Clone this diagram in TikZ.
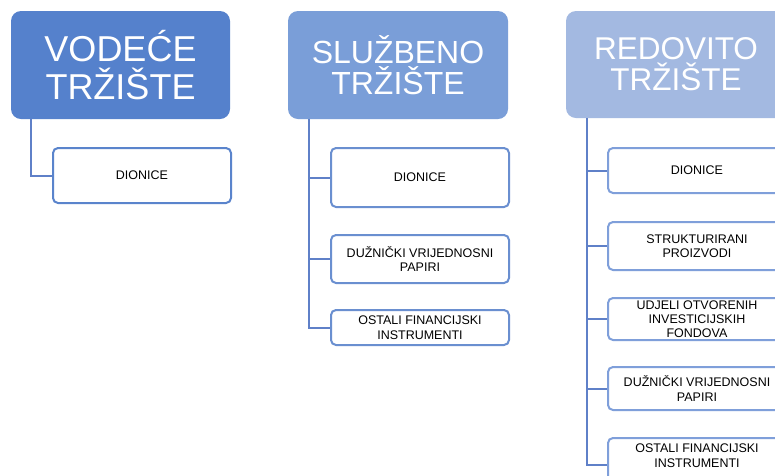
\documentclass[tikz,border=0pt]{standalone}
\usepackage{fontspec}
\setmainfont{Liberation Sans}
\definecolor{headA}{HTML}{5581CC}
\definecolor{headB}{HTML}{7A9ED8}
\definecolor{headC}{HTML}{A3B9E1}
\definecolor{lineblue}{HTML}{5F80C8}
\definecolor{borderA}{HTML}{5A84CC}
\definecolor{borderB}{HTML}{6A8FD0}
\definecolor{borderC}{HTML}{7F9FDA}
\tikzset{
  headbox/.style={rectangle, rounded corners=10pt, draw=none, text=white, align=center,
    minimum width=219pt, inner sep=0pt},
  childbox/.style={rectangle, rounded corners=5pt, fill=white, line width=2pt, align=center,
    minimum width=178pt, inner sep=0pt,
    font=\fontsize{12.5pt}{14.5pt}\selectfont},
  conn/.style={draw=lineblue, line width=2pt},
}
\begin{document}
\begin{tikzpicture}[x=1pt,y=-1pt]
\clip (0,0) rectangle (775,475);
\fill[white] (0,0) rectangle (775,475);
% heads
\node[headbox, fill=headA, minimum height=108pt, font=\fontsize{36pt}{38pt}\selectfont] (h1) at (120.5,65) {VODEĆE\\TRŽIŠTE};
\node[headbox, fill=headB, minimum height=108pt, minimum width=220pt, font=\fontsize{32pt}{31pt}\selectfont] (h2) at (398,65) {SLUŽBENO\\TRŽIŠTE};
\node[headbox, fill=headC, minimum height=107pt, minimum width=220pt, font=\fontsize{31.5pt}{31pt}\selectfont] (h3) at (676,64.5) {REDOVITO\\TRŽIŠTE};
% column 1
\node[childbox, draw=borderA, minimum height=55pt] (c11) at (142,175.5) {DIONICE};
% column 2
\node[childbox, draw=borderB, minimum height=59pt] (c21) at (420,177.5) {DIONICE};
\node[childbox, draw=borderB, minimum height=48pt] (c22) at (420,259) {DUŽNIČKI VRIJEDNOSNI\\PAPIRI};
\node[childbox, draw=borderB, minimum height=35pt] (c23) at (420,327.5) {OSTALI FINANCIJSKI\\INSTRUMENTI};
% column 3
\node[childbox, draw=borderC, minimum height=45pt] (c31) at (697,170.5) {DIONICE};
\node[childbox, draw=borderC, minimum height=48pt] (c32) at (697,246) {STRUKTURIRANI\\PROIZVODI};
\node[childbox, draw=borderC, minimum height=42pt, font=\fontsize{12.5pt}{14pt}\selectfont] (c33) at (697,319) {UDJELI OTVORENIH\\INVESTICIJSKIH\\FONDOVA};
\node[childbox, draw=borderC, minimum height=43pt] (c34) at (697,388.5) {DUŽNIČKI VRIJEDNOSNI\\PAPIRI};
\node[childbox, draw=borderC, minimum height=54pt, text depth=19pt] (c35) at (697,465) {OSTALI FINANCIJSKI\\INSTRUMENTI};
% connector start points
\coordinate (v1) at (31,119);
\coordinate (v2) at (309,119);
\coordinate (v3) at (587,118);
\draw[conn] (v1) |- (c11.west);
\draw[conn] (v2) |- (c21.west);
\draw[conn] (v2) |- (c22.west);
\draw[conn] (v2) |- (c23.west);
\draw[conn] (v3) |- (c31.west);
\draw[conn] (v3) |- (c32.west);
\draw[conn] (v3) |- (c33.west);
\draw[conn] (v3) |- (c34.west);
\draw[conn] (v3) |- (c35.west);
\end{tikzpicture}
\end{document}
